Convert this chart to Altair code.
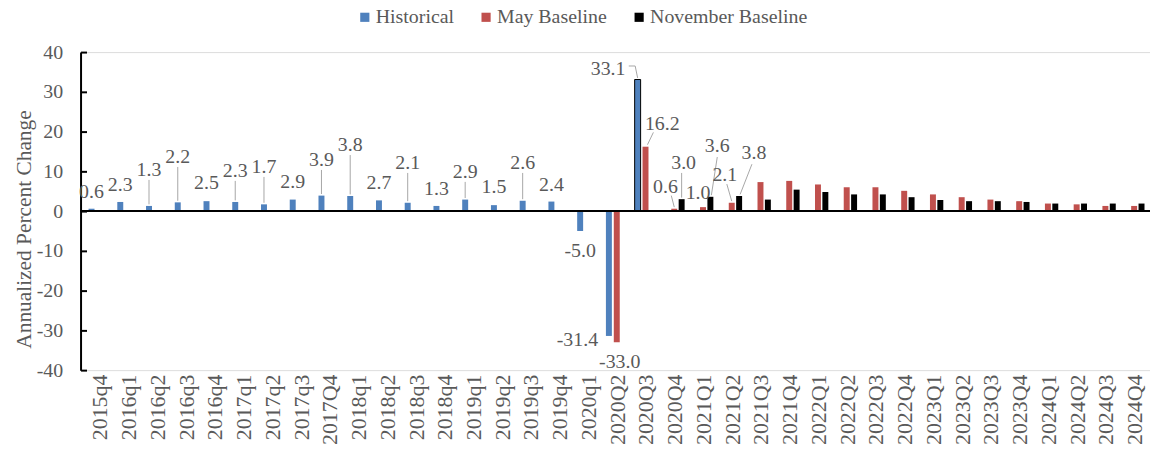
import json
import altair as alt
import pandas as pd

# ---------------- data ----------------
categories = [
    "2015q4", "2016q1", "2016q2", "2016q3", "2016q4", "2017q1", "2017q2", "2017q3", "2017Q4",
    "2018q1", "2018q2", "2018q3", "2018q4", "2019q1", "2019q2", "2019q3", "2019q4", "2020q1",
    "2020Q2", "2020Q3", "2020Q4", "2021Q1", "2021Q2", "2021Q3", "2021Q4", "2022Q1", "2022Q2",
    "2022Q3", "2022Q4", "2023Q1", "2023Q2", "2023Q3", "2023Q4", "2024Q1", "2024Q2", "2024Q3",
    "2024Q4",
]
historical = [0.6, 2.3, 1.3, 2.2, 2.5, 2.3, 1.7, 2.9, 3.9, 3.8, 2.7, 2.1, 1.3, 2.9, 1.5, 2.6,
              2.4, -5.0, -31.4, 33.1]
may_baseline = [-33.0, 16.2, 0.6, 1.0, 2.1, 7.3, 7.6, 6.7, 6.0, 6.0, 5.1, 4.2, 3.5, 2.9, 2.5,
                1.9, 1.7, 1.3, 1.3]
november_baseline = [3.0, 3.6, 3.8, 2.9, 5.4, 4.8, 4.2, 4.2, 3.5, 2.8, 2.5, 2.5, 2.3, 1.9, 1.9,
                     1.9, 1.9]
MAY_START = categories.index("2020Q2")
NOV_START = categories.index("2020Q4")
MAY_LABELLED = 5   # first May values carrying a data label
NOV_LABELLED = 3   # first November values carrying a data label

series_names = ["Historical", "May Baseline", "November Baseline"]
series_colors = ["#4F81BD", "#C0504D", "#000000"]

# ---------------- annotation layout ----------------
# label centre (axis units) and horizontal shift (px) relative to its bar
hist_label_y = [4.75, 6.5, 10.25, 13.5, 7.0, 10.0, 11.0, 7.25, 12.75, 16.5, 7.0, 12.0, 5.5,
                9.75, 6.0, 12.0, 6.5, -10.0, -32.5, 35.75]
hist_label_dx = [0] * 17 + [0, -32, -30]
hist_leader_idx = [2, 3, 5, 6, 8, 9, 11, 13, 15]
may_label_y = [-38.0, 22.0, 6.0, 4.5, 9.0]
may_label_dx = [3, 17, -9, -5, -7]
nov_label_y = [12.0, 16.25, 14.5]
nov_label_dx = [2, 7, 15]
# leader polylines: (series, category index, [(dx px, y units), ...])
extra_leaders = [
    ("Historical", 19, [(-9, 36.5), (-2.5, 36.5), (0, 33.5)]),
    ("May Baseline", 19, [(8, 19.8), (2, 16.7)]),
    ("May Baseline", 20, [(-3, 3.9), (0, 1.0)]),
    ("November Baseline", 20, [(0, 9.6), (0, 3.4)]),
    ("November Baseline", 21, [(7, 13.6), (1, 4.0)]),
    ("May Baseline", 22, [(-5, 6.8), (0, 2.5)]),
    ("November Baseline", 22, [(13, 11.8), (1, 4.2)]),
]

# ---------------- geometry / style ----------------
W, H = 1076, 320
CW = 29.19                      # px per category
XMIN, XMAX = -0.5, -0.5 + W / CW
OFF = {"Historical": -8.5, "May Baseline": -0.5, "November Baseline": 7.0}
FONT = "Liberation Serif, Times New Roman, serif"
GREY = "#595959"
LEADER = "#A6A6A6"


def xpos(series, idx, dx=0.0):
    return idx + (OFF[series] + dx) / CW


series_data = [
    ("Historical", 0, historical),
    ("May Baseline", MAY_START, may_baseline),
    ("November Baseline", NOV_START, november_baseline),
]

bar_rows = []
for name, start, vals in series_data:
    for k, v in enumerate(vals):
        i = start + k
        bar_rows.append({"series": name, "cat": categories[i], "x": xpos(name, i), "value": v})
bars_df = pd.DataFrame(bar_rows)

label_rows = []
for k, v in enumerate(historical):
    label_rows.append({"x": xpos("Historical", k, hist_label_dx[k]), "y": hist_label_y[k],
                       "text": f"{v:.1f}"})
for k in range(MAY_LABELLED):
    i = MAY_START + k
    label_rows.append({"x": xpos("May Baseline", i, may_label_dx[k]), "y": may_label_y[k],
                       "text": f"{may_baseline[k]:.1f}"})
for k in range(NOV_LABELLED):
    i = NOV_START + k
    label_rows.append({"x": xpos("November Baseline", i, nov_label_dx[k]), "y": nov_label_y[k],
                       "text": f"{november_baseline[k]:.1f}"})
labels_df = pd.DataFrame(label_rows)

leader_rows = []
lid = 0
for k in hist_leader_idx:
    pts = [(0, hist_label_y[k] - 2.4), (0, historical[k] + 0.4)]
    for o, (dx, y) in enumerate(pts):
        leader_rows.append({"id": lid, "o": o, "x": xpos("Historical", k, dx), "y": y})
    lid += 1
for name, i, pts in extra_leaders:
    for o, (dx, y) in enumerate(pts):
        leader_rows.append({"id": lid, "o": o, "x": xpos(name, i, dx), "y": y})
    lid += 1
leaders_df = pd.DataFrame(leader_rows)

zero_df = pd.DataFrame({"zero": [0.0], "x": [XMIN]})

x_scale = alt.Scale(domain=[XMIN, XMAX], nice=False, zero=False)
y_scale = alt.Scale(domain=[-40, 40], nice=False)
y_ticks = list(range(-40, 41, 10))

x_axis = alt.Axis(
    values=list(range(len(categories))),
    labelExpr=f"{json.dumps(categories)}[datum.value]",
    labelAngle=270, labelAlign="right", labelBaseline="middle",
    labelPadding=4, labelFont=FONT, labelFontSize=22, labelColor=GREY,
    labelOverlap=False, labelFlush=False, labelBound=False,
    domain=False, ticks=False, grid=False, title="",
)
y_axis = alt.Axis(
    values=y_ticks, labelFont=FONT, labelFontSize=20, labelColor=GREY,
    labelExpr="datum.value < 0 ? '-' + abs(datum.value) : '' + datum.value",
    labelPadding=18, ticks=False, tickSize=0, grid=False,
    domain=True, domainColor="black", domainWidth=2,
    title="Annualized Percent Change", titleFont=FONT, titleFontSize=21.5,
    titleColor=GREY, titleFontWeight="normal", titleAngle=270,
    titleX=-56, titleY=178, titleAlign="center", titleBaseline="middle",
)
tick_axis = alt.Axis(
    orient="right", offset=-W, values=y_ticks, labels=False, domain=False,
    ticks=True, tickSize=6, tickWidth=2, tickColor="black", grid=False, title="",
)

X = alt.X("x:Q", scale=x_scale, axis=x_axis)

bars = alt.Chart(bars_df).mark_bar(size=6, stroke="black").encode(
    x=X,
    y=alt.Y("value:Q", scale=y_scale, axis=y_axis),
    color=alt.Color(
        "series:N",
        scale=alt.Scale(domain=series_names, range=series_colors),
        legend=alt.Legend(
            title=None, orient="none", legendX=276, legendY=-45, direction="horizontal",
            symbolType="square", symbolSize=85, symbolStrokeWidth=0,
            labelFont=FONT, labelFontSize=20, labelColor=GREY, labelOffset=1,
            labelLimit=400, columnPadding=22, padding=0,
        ),
    ),
    strokeWidth=alt.condition(alt.datum.value > 30, alt.value(1), alt.value(0)),
)

zero_line = alt.Chart(zero_df).mark_rule(color="black", strokeWidth=2).encode(
    y=alt.Y("zero:Q", scale=y_scale, axis=tick_axis),
)

leaders = alt.Chart(leaders_df).mark_line(color=LEADER, strokeWidth=1).encode(
    x=X,
    y=alt.Y("y:Q", scale=y_scale, axis=None),
    detail="id:N",
    order="o:Q",
)

labels = alt.Chart(labels_df).mark_text(
    font=FONT, fontSize=20, color=GREY, align="center", baseline="middle",
).encode(
    x=X,
    y=alt.Y("y:Q", scale=y_scale, axis=None),
    text="text:N",
)

chart = alt.layer(bars, zero_line, leaders, labels).resolve_axis(
    y="independent"
).properties(
    width=W, height=H,
    autosize=alt.AutoSizeParams(type="none"),
    padding={"left": 73, "top": 43, "right": 0, "bottom": 78},
).configure_view(stroke=None).configure(background="white")

chart.save("out.html", embed_options={"renderer": "svg", "actions": False})
